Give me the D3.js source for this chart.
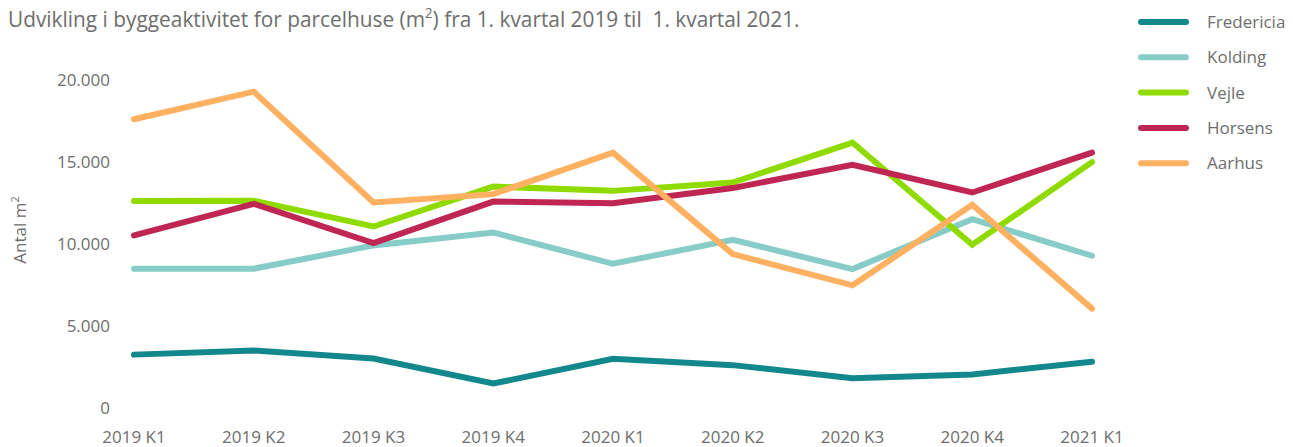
<!DOCTYPE html>
<html>
<head>
<meta charset="utf-8">
<script src="https://cdn.jsdelivr.net/npm/d3@7"></script>
<style>
  body { margin: 0; background: #fff; }
  svg { display: block; }
  text { white-space: pre; }
</style>
</head>
<body>
<div id="chart"></div>
<script>
var width = 1293;
var height = 447;

var quarters = ["2019 K1", "2019 K2", "2019 K3", "2019 K4", "2020 K1", "2020 K2", "2020 K3", "2020 K4", "2021 K1"];
var cities = ["Fredericia", "Kolding", "Vejle", "Horsens", "Aarhus"];
var colors = ["#13888c", "#88ccc8", "#8fdb00", "#bf2653", "#ffb060"];
var yTicks = [0, 5000, 10000, 15000, 20000];

var fredericia = [3280, 3530, 3040, 1520, 3030, 2640, 1840, 2070, 2850];
var kolding    = [8510, 8510, 9930, 10720, 8810, 10270, 8490, 11530, 9300];
var vejle      = [12640, 12650, 11080, 13510, 13250, 13760, 16190, 9970, 15000];
var horsens    = [10540, 12460, 10070, 12600, 12500, 13420, 14830, 13150, 15580];
var aarhus     = [17610, 19290, 12540, 13050, 15580, 9400, 7500, 12400, 6080];

var seriesValues = [fredericia, kolding, vejle, horsens, aarhus];

var svg = d3.select("#chart")
            .append("svg")
            .attr("width", width)
            .attr("height", height);

var x = d3.scalePoint()
          .domain(quarters)
          .range([134, 1092]);

var y = d3.scaleLinear()
          .domain([0, 20000])
          .range([408.5, 80]);

var fmt = function(d) {
    return d3.format(",")(d).replace(/,/g, ".");
};

var textColor = "#6e6e6e";

// title - condensed look by squeezing horizontally
var title = svg.append("text")
    .attr("transform", "translate(8, 27)")
    .style("font-family", "'Open Sans', sans-serif")
    .style("font-size", "22px")
    .attr("fill", textColor);
title.append("tspan").text("Udvikling i byggeaktivitet for parcelhuse (m");
title.append("tspan").attr("dy", -9).style("font-size", "14px").text("2");
title.append("tspan").attr("dy", 9).text(") fra 1. kvartal 2019 til  1. kvartal 2021.");

var titleLen = title.node().getComputedTextLength();
title.attr("transform", "translate(8, 27) scale(" + (792 / titleLen) + ", 1)");

// y tick labels
svg.append("g")
    .selectAll("text")
    .data(yTicks)
    .join("text")
    .attr("x", 110)
    .attr("y", d => y(d))
    .attr("dy", "0.35em")
    .style("text-anchor", "end")
    .style("font-family", "'Open Sans', sans-serif")
    .style("font-size", "17px")
    .attr("fill", textColor)
    .text(fmt);

// y axis title
var yTitle = svg.append("text")
    .attr("transform", "translate(26, 230) rotate(-90)")
    .style("text-anchor", "middle")
    .style("font-family", "'Open Sans', sans-serif")
    .style("font-size", "17px")
    .attr("fill", textColor);
yTitle.append("tspan").text("Antal m");
yTitle.append("tspan").attr("dy", -7).style("font-size", "11px").text("2");

// x labels
svg.append("g")
    .selectAll("text")
    .data(quarters)
    .join("text")
    .attr("x", d => x(d))
    .attr("y", 443)
    .style("text-anchor", "middle")
    .style("font-family", "'Open Sans', sans-serif")
    .style("font-size", "17px")
    .attr("fill", textColor)
    .text(d => d);

// lines
var line = d3.line()
             .x((d, i) => x(quarters[i]))
             .y(d => y(d));

svg.append("g")
    .selectAll("path")
    .data(seriesValues)
    .join("path")
    .attr("d", line)
    .attr("fill", "none")
    .attr("stroke", (d, i) => colors[i])
    .attr("stroke-width", 6)
    .attr("stroke-linecap", "round")
    .attr("stroke-linejoin", "miter");

// legend
var legend = svg.append("g")
    .selectAll("g")
    .data(cities)
    .join("g")
    .attr("transform", (d, i) => "translate(1141," + (22 + i * 35.3) + ")");

legend.append("line")
    .attr("x1", 0)
    .attr("x2", 45)
    .attr("stroke", (d, i) => colors[i])
    .attr("stroke-width", 6)
    .attr("stroke-linecap", "round");

legend.append("text")
    .attr("x", 66)
    .attr("dy", "0.35em")
    .style("font-family", "'Open Sans', sans-serif")
    .style("font-size", "17px")
    .attr("fill", textColor)
    .text(d => d);
</script>
</body>
</html>
